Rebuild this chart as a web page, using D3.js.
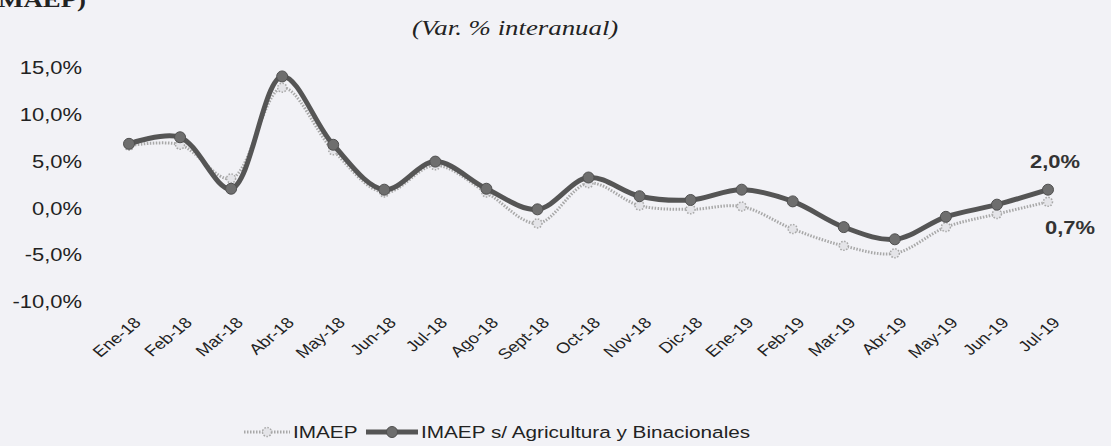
<!DOCTYPE html>
<html>
<head>
<meta charset="utf-8">
<script src="https://cdn.jsdelivr.net/npm/d3@7"></script>
<style>
  body { margin: 0; background: #f2f2f6; }
  text { font-family: "Liberation Sans", Arial, sans-serif; fill: #222; }
</style>
</head>
<body>
<div id="chart"></div>
<script>
const months = ["Ene-18", "Feb-18", "Mar-18", "Abr-18", "May-18", "Jun-18", "Jul-18", "Ago-18", "Sept-18",
    "Oct-18", "Nov-18", "Dic-18", "Ene-19", "Feb-19", "Mar-19", "Abr-19", "May-19", "Jun-19", "Jul-19"];
const imaep = [6.7, 6.8, 3.2, 12.9, 6.2, 1.7, 4.6, 1.7, -1.6, 2.7, 0.3, -0.1, 0.2, -2.2, -4.0, -4.8, -2.0, -0.6, 0.7];
const imaepSinAgro = [6.9, 7.6, 2.1, 14.1, 6.8, 2.0, 5.0, 2.1, -0.1, 3.3, 1.3, 0.9, 2.0, 0.75, -2.0, -3.3, -0.9, 0.4, 2.0];
const yTicks = [-10, -5, 0, 5, 10, 15];

const width = 1111, height = 446;
const sx = 1.22; // the scanned chart is stretched sideways

const svg = d3.select('#chart')
    .append('svg')
    .attr('width', width)
    .attr('height', height);

const x = d3.scalePoint().domain(months).range([129, 1048]);
const y = d3.scaleLinear().domain([-10, 15]).range([302, 68]);
const fmt = d => d.toFixed(1).replace('.', ',') + '%';

// cut-off heading and subtitle
svg.append('text')
    .attr('transform', `translate(86, 7) scale(${sx},1)`)
    .attr('text-anchor', 'end')
    .style('font-family', '"Liberation Serif", serif')
    .style('font-weight', 'bold')
    .style('font-size', '22px')
    .text('IMAEP)');

svg.append('text')
    .attr('transform', `translate(412, 35) scale(${sx},1)`)
    .style('font-family', '"Liberation Serif", serif')
    .style('font-style', 'italic')
    .style('font-size', '22px')
    .text('(Var. % interanual)');

// y axis
const yAxis = svg.append('g')
    .attr('transform', 'translate(88,0)')
    .call(d3.axisLeft(y).tickValues(yTicks).tickSize(0).tickPadding(0).tickFormat(fmt));
yAxis.select('.domain').remove();
yAxis.selectAll('text')
    .attr('x', null)
    .attr('transform', `translate(-6,0) scale(${sx},1)`)
    .style('font-size', '18px')
    .style('fill', '#222');

// x axis
const xAxis = svg.append('g')
    .attr('transform', 'translate(0,320)')
    .call(d3.axisBottom(x).tickSize(0).tickPadding(0));
xAxis.select('.domain').remove();
xAxis.selectAll('text')
    .attr('y', null)
    .attr('dy', '0.35em')
    .attr('text-anchor', 'end')
    .attr('transform', `translate(8,0) scale(${sx},1) rotate(-45)`)
    .style('font-size', '15px')
    .style('fill', '#222');

const line = d3.line()
    .x((d, i) => x(months[i]))
    .y(d => y(d))
    .curve(d3.curveCatmullRom.alpha(0.5));

// IMAEP (light dotted)
svg.append('path')
    .datum(imaep)
    .attr('d', line)
    .attr('fill', 'none')
    .attr('stroke', '#a8a8a8')
    .attr('stroke-width', 3)
    .attr('stroke-dasharray', '1.5,1.5');

svg.selectAll('.m1')
    .data(imaep)
    .enter()
    .append('circle')
    .attr('class', 'm1')
    .attr('cx', (d, i) => x(months[i]))
    .attr('cy', d => y(d))
    .attr('r', 4.5)
    .attr('fill', '#e4e4e8')
    .attr('stroke', '#a8a8a8')
    .attr('stroke-width', 1.5)
    .attr('stroke-dasharray', '1.5,1.5');

// IMAEP s/ Agricultura y Binacionales (dark)
svg.append('path')
    .datum(imaepSinAgro)
    .attr('d', line)
    .attr('fill', 'none')
    .attr('stroke', '#555')
    .attr('stroke-width', 5);

svg.selectAll('.m2')
    .data(imaepSinAgro)
    .enter()
    .append('circle')
    .attr('class', 'm2')
    .attr('cx', (d, i) => x(months[i]))
    .attr('cy', d => y(d))
    .attr('r', 5.5)
    .attr('fill', '#6e6e6e')
    .attr('stroke', '#505050')
    .attr('stroke-width', 1);

// end labels
const last = months.length - 1;
svg.append('text')
    .attr('transform', `translate(${x(months[last]) + 7}, ${y(imaepSinAgro[last]) - 22}) scale(${sx},1)`)
    .attr('text-anchor', 'middle')
    .style('font-size', '18px')
    .style('font-weight', 'bold')
    .style('fill', '#333')
    .text(fmt(imaepSinAgro[last]));

svg.append('text')
    .attr('transform', `translate(${x(months[last]) + 22}, ${y(imaep[last]) + 32}) scale(${sx},1)`)
    .attr('text-anchor', 'middle')
    .style('font-size', '18px')
    .style('font-weight', 'bold')
    .style('fill', '#333')
    .text(fmt(imaep[last]));

// legend
const legend = svg.append('g').attr('transform', 'translate(0,432)');

legend.append('line')
    .attr('x1', 244).attr('x2', 290)
    .attr('stroke', '#a8a8a8').attr('stroke-width', 3).attr('stroke-dasharray', '1.5,1.5');
legend.append('circle')
    .attr('cx', 267).attr('r', 4.5)
    .attr('fill', '#e4e4e8').attr('stroke', '#a8a8a8').attr('stroke-width', 1.5).attr('stroke-dasharray', '1.5,1.5');
legend.append('text')
    .attr('transform', `translate(293,0) scale(${sx},1)`)
    .attr('dy', '0.36em')
    .style('font-size', '17px')
    .text('IMAEP');

legend.append('line')
    .attr('x1', 366).attr('x2', 418)
    .attr('stroke', '#555').attr('stroke-width', 5);
legend.append('circle')
    .attr('cx', 392).attr('r', 5.5)
    .attr('fill', '#6e6e6e').attr('stroke', '#505050');
legend.append('text')
    .attr('transform', `translate(421,0) scale(${sx},1)`)
    .attr('dy', '0.36em')
    .style('font-size', '17px')
    .text('IMAEP s/ Agricultura y Binacionales');
</script>
</body>
</html>
